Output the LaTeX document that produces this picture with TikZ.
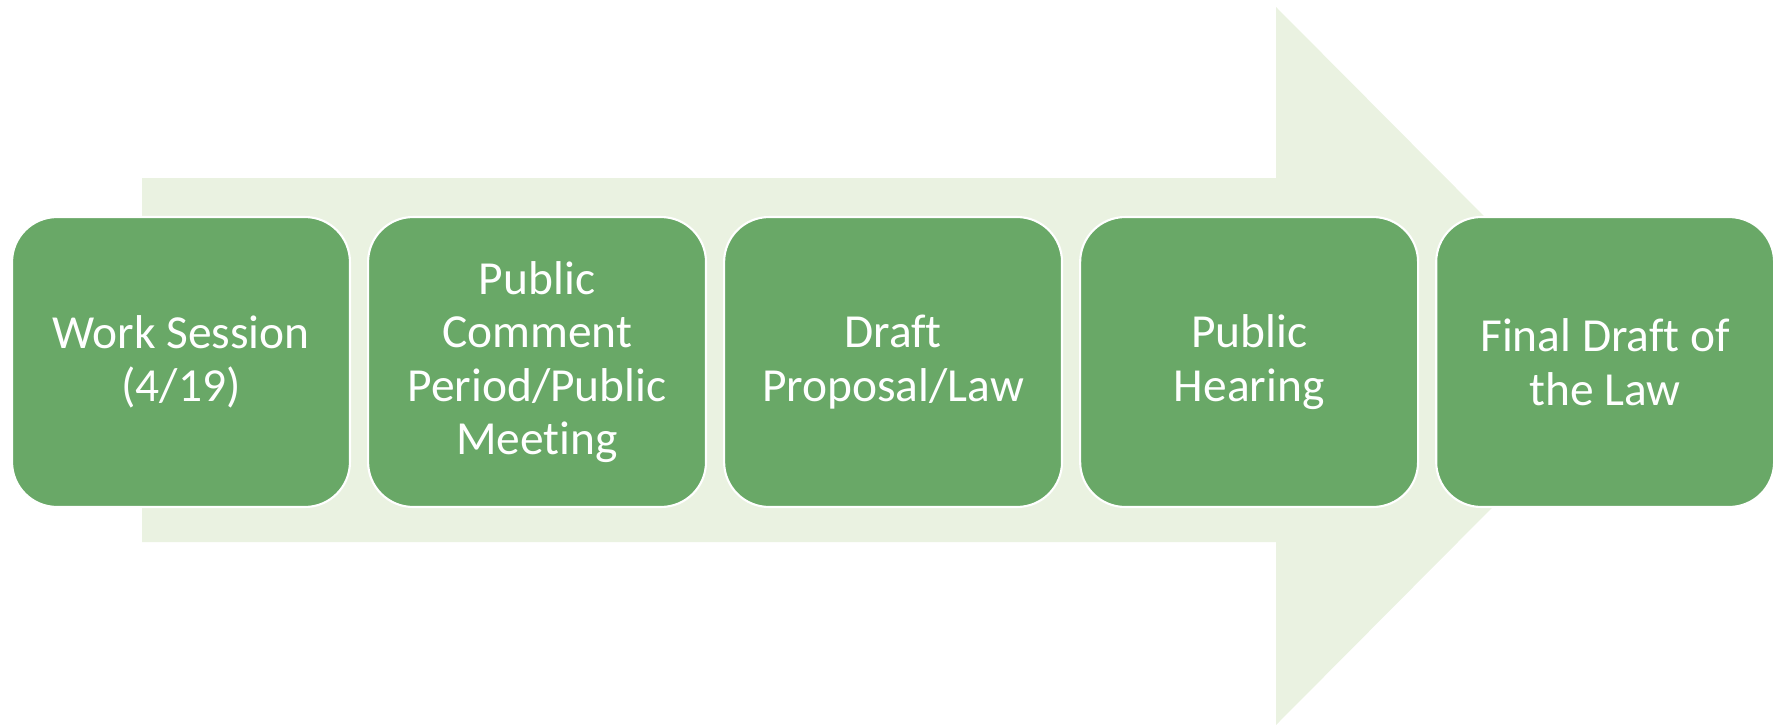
\documentclass[tikz,border=0pt]{standalone}
\usepackage{fontspec}
\setmainfont{Carlito}[Ligatures=NoCommon]
\usetikzlibrary{positioning}

\definecolor{stagegreen}{RGB}{105,168,103}
\definecolor{arrowtint}{RGB}{234,242,225}

\tikzset{
	stagebox/.style={rectangle, rounded corners=0.9cm, fill=stagegreen, draw=white,
		line width=1.2pt, minimum width=6.76cm, minimum height=5.8cm, inner sep=0pt,
		text=white, align=center, font=\fontsize{27}{30.5}\selectfont},
}

\begin{document}
\begin{tikzpicture}[x=0.02cm, y=-0.02cm, node distance=0.32cm]
	\useasboundingbox (0,0) rectangle (1776,727);
	
	% big pale arrow behind the steps
	\fill[arrowtint] (142,178) -- (1276,178) -- (1276,7) -- (1633,366)
		-- (1276,725) -- (1276,542) -- (142,542) -- cycle;
	
	\node[stagebox] (work) at (181,362) {Work Session\\(4/19)};
	\node[stagebox, right=of work] (comment) {Public\\Comment\\Period/Public\\Meeting};
	\node[stagebox, right=of comment] (draft) {Draft\\Proposal/Law};
	\node[stagebox, right=of draft] (hearing) {Public\\Hearing};
	\node[stagebox, right=of hearing] (final) {Final Draft of\\the Law};
\end{tikzpicture}
\end{document}
